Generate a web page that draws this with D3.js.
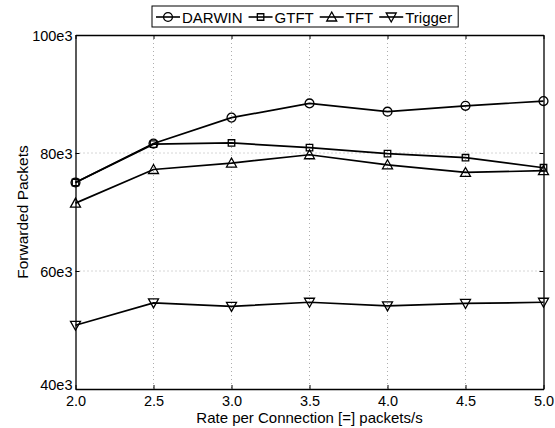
<!DOCTYPE html>
<html>
<head>
<meta charset="utf-8">
<script src="https://cdn.jsdelivr.net/npm/d3@7"></script>
<style>
  body { margin: 0; background: #fff; }
  svg text { font-family: "Liberation Sans", Arial, sans-serif; fill: #000; }
</style>
</head>
<body>
<div id="canvas"></div>
<script>
// DATA
const rates = [2.0, 2.5, 3.0, 3.5, 4.0, 4.5, 5.0];
const darwin  = [75000, 81600, 86000, 88400, 87000, 88000, 88800];
const gtft    = [75000, 81500, 81700, 80900, 79900, 79200, 77500];
const tft     = [71500, 77200, 78300, 79700, 78000, 76700, 77000];
const trigger = [50800, 54600, 54000, 54700, 54100, 54500, 54700];
const seriesNames = ["DARWIN", "GTFT", "TFT", "Trigger"];
const seriesMarkers = ["circle", "square", "triangle", "triangleDown"];
const xTicks = [2.0, 2.5, 3.0, 3.5, 4.0, 4.5, 5.0];
const yTicks = [40000, 60000, 80000, 100000];

// DIMENSIONS
const width = 555;
const height = 428;
const margin = { top: 35, right: 11.5, bottom: 39, left: 75.5 };
const plot_width = width - margin.left - margin.right;
const plot_height = height - margin.top - margin.bottom;

// CANVAS AND PLOT
const canvas = d3.select("#canvas")
  .append("svg")
  .attr("width", width)
  .attr("height", height);

const plot = canvas.append("g")
  .attr("transform", `translate(${margin.left},${margin.top})`);

// SCALES
const scaleX = d3.scaleLinear().domain([2, 5]).range([0, plot_width]);
const scaleY = d3.scaleLinear().domain([40000, 100000]).range([plot_height, 0]);

// GRID
plot.append("g").selectAll("line")
  .data(xTicks.slice(1, -1))
  .join("line")
  .attr("x1", d => scaleX(d)).attr("x2", d => scaleX(d))
  .attr("y1", 0).attr("y2", plot_height)
  .attr("stroke", "#999").attr("stroke-width", 0.8)
  .attr("stroke-dasharray", "1,3");

plot.append("g").selectAll("line")
  .data(yTicks.slice(1, -1))
  .join("line")
  .attr("y1", d => scaleY(d)).attr("y2", d => scaleY(d))
  .attr("x1", 0).attr("x2", plot_width)
  .attr("stroke", "#999").attr("stroke-width", 0.8)
  .attr("stroke-dasharray", "1,3");

// AXES (inward ticks, boxed)
const fmtY = d => (d / 1000) + "e3";
const xAxB = d3.axisBottom(scaleX).tickValues(xTicks).tickSize(-4).tickSizeOuter(0)
  .tickFormat(d3.format(".1f")).tickPadding(9);
const xAxT = d3.axisTop(scaleX).tickValues(xTicks).tickSize(-4).tickSizeOuter(0).tickFormat("");
const yAxL = d3.axisLeft(scaleY).tickValues(yTicks).tickSize(-4).tickSizeOuter(0)
  .tickFormat(fmtY).tickPadding(3);
const yAxR = d3.axisRight(scaleY).tickValues(yTicks).tickSize(-4).tickSizeOuter(0).tickFormat("");

function styleAxis(g) {
  g.select(".domain").attr("stroke", "#000").attr("stroke-width", 1.3);
  g.selectAll(".tick line").attr("stroke", "#000");
  g.selectAll("text").style("font-size", "14.5px").attr("fill", "#000");
}

const xaxis = plot.append("g").attr("transform", `translate(0,${plot_height})`).call(xAxB).call(styleAxis);
xaxis.selectAll("text").attr("dy", "0.55em");
plot.append("g").call(xAxT).call(styleAxis);
const yaxis = plot.append("g").call(yAxL).call(styleAxis);
yaxis.selectAll("text").attr("dy", "0.35em");
yaxis.selectAll(".tick").filter(d => d === 40000).select("text").attr("dy", "0.05em");
plot.append("g").attr("transform", `translate(${plot_width},0)`).call(yAxR).call(styleAxis);

// LABELS
canvas.append("text")
  .attr("x", margin.left + plot_width / 2)
  .attr("y", 423)
  .attr("text-anchor", "middle")
  .style("font-size", "15px")
  .text("Rate per Connection [=] packets/s");

canvas.append("text")
  .attr("transform", `translate(28,${margin.top + plot_height / 2}) rotate(-90)`)
  .attr("text-anchor", "middle")
  .style("font-size", "15.5px")
  .text("Forwarded Packets");

// MARKERS
const markerPath = {
  circle: d3.symbol(d3.symbolCircle, 62)(),
  square: d3.symbol(d3.symbolSquare, 42)(),
  triangle: "M0,-5L5,4L-5,4Z",
  triangleDown: "M0,5L5,-4L-5,-4Z"
};

// LINES
const allSeries = [darwin, gtft, tft, trigger];
const line = d3.line().x((d, i) => scaleX(rates[i])).y(d => scaleY(d));

allSeries.forEach((vals, k) => {
  plot.append("path")
    .datum(vals)
    .attr("d", line)
    .attr("fill", "none")
    .attr("stroke", "#000")
    .attr("stroke-width", 1.7);
  plot.append("g").selectAll("path")
    .data(vals)
    .join("path")
    .attr("transform", (d, i) => `translate(${scaleX(rates[i])},${scaleY(d)})`)
    .attr("d", markerPath[seriesMarkers[k]])
    .attr("fill", "none")
    .attr("stroke", "#000")
    .attr("stroke-width", 1.3);
});

// LEGEND
const legend = canvas.append("g").attr("class", "legend");
const legBox = legend.append("rect")
  .attr("fill", "#fff").attr("stroke", "#000").attr("stroke-width", 1);
let lx = 156;
const ly = 17;
seriesNames.forEach((name, k) => {
  legend.append("line")
    .attr("x1", lx).attr("x2", lx + 24)
    .attr("y1", ly).attr("y2", ly)
    .attr("stroke", "#000").attr("stroke-width", 1.6);
  legend.append("path")
    .attr("transform", `translate(${lx + 12},${ly})`)
    .attr("d", markerPath[seriesMarkers[k]])
    .attr("fill", "none").attr("stroke", "#000").attr("stroke-width", 1.3);
  const t = legend.append("text")
    .attr("x", lx + 26).attr("y", ly + 5.5)
    .style("font-size", "15px")
    .text(name);
  lx += 26 + t.node().getComputedTextLength() + 6;
});
legBox.attr("x", 152).attr("y", 6).attr("width", lx - 152).attr("height", 21);
</script>
</body>
</html>
